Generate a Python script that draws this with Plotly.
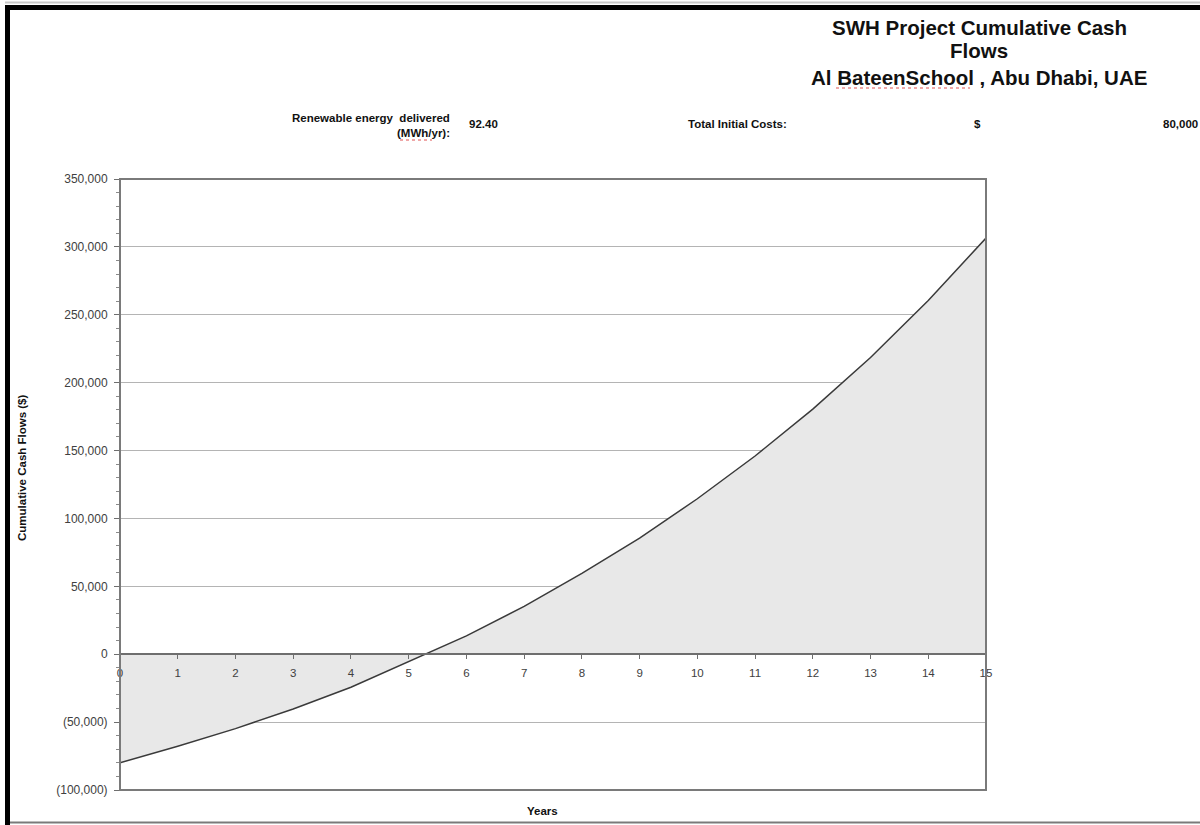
import plotly.graph_objects as go

years = list(range(16))
cumulative_cash = [-80000, -67800, -54800, -40300, -24300, -5500, 13500, 35200,
                   59500, 85500, 114500, 146000, 180500, 218500, 260500, 306500]
y_tickvals = [-100000, -50000, 0, 50000, 100000, 150000, 200000, 250000, 300000, 350000]
y_ticktext = ["(100,000)", "(50,000)", "0", "50,000", "100,000", "150,000",
              "200,000", "250,000", "300,000", "350,000"]
title_lines = ["SWH Project Cumulative Cash", "Flows", "Al BateenSchool , Abu Dhabi, UAE"]

W, H = 1200, 825
def px(x):
    return x / W
def py(y):
    return 1 - y / H

FONT = "Liberation Sans, Arial, sans-serif"
NARROW = "Liberation Sans Narrow, Arial Narrow, Liberation Sans, Arial, sans-serif"

fig = go.Figure()
fig.add_trace(go.Scatter(
    x=years, y=cumulative_cash, mode="lines", fill="tozeroy",
    fillcolor="#e8e8e8", line=dict(color="#3a3a3a", width=1.5),
    hoverinfo="x+y", showlegend=False))

y0_pos = (0 - (-100000)) / 450000
ydom = [1 - 790 / H, 1 - 179 / H]
xaxis_pos = ydom[0] + y0_pos * (ydom[1] - ydom[0])

fig.update_layout(
    width=W, height=H, autosize=False,
    margin=dict(l=0, r=0, t=0, b=0, pad=0),
    paper_bgcolor="white", plot_bgcolor="white",
    xaxis=dict(domain=[120 / W, 986 / W], range=[0, 15], anchor="free",
               position=xaxis_pos, tickvals=years, showgrid=False, zeroline=False,
               showline=True, linecolor="#6e6e6e", linewidth=1.5, automargin=False,
               ticks="outside", ticklen=4, tickcolor="#6e6e6e", ticklabelstandoff=4,
               tickfont=dict(family=FONT, size=11.5, color="#404040")),
    yaxis=dict(domain=ydom, range=[-100000, 350000], tickvals=y_tickvals,
               ticktext=y_ticktext, showgrid=True, gridcolor="#b4b4b4", gridwidth=1,
               zeroline=False, showline=False, ticks="outside", ticklen=5,
               tickcolor="#6e6e6e", automargin=False, ticklabelstandoff=4,
               minor=dict(ticks="outside", dtick=10000, ticklen=3, tickcolor="#8a8a8a",
                          showgrid=False),
               tickfont=dict(family=FONT, size=12, color="#404040")),
    shapes=[
        dict(type="rect", xref="x domain", yref="y domain", x0=0, x1=1, y0=0, y1=1,
             line=dict(color="#7a7a7a", width=2), layer="above"),
        # outer frame
        dict(type="line", xref="paper", yref="paper", x0=px(5), x1=1, y0=py(2.5), y1=py(2.5),
             line=dict(color="#c8c8c8", width=2)),
        dict(type="line", xref="paper", yref="paper", x0=px(5), x1=1, y0=py(7.5), y1=py(7.5),
             line=dict(color="black", width=5)),
        dict(type="line", xref="paper", yref="paper", x0=px(7.5), x1=px(7.5), y0=0, y1=py(5),
             line=dict(color="black", width=5)),
        dict(type="line", xref="paper", yref="paper", x0=px(10), x1=1, y0=py(822.5), y1=py(822.5),
             line=dict(color="#7a7a7a", width=2)),
        # spell-check squiggles
        dict(type="line", xref="paper", yref="paper", x0=px(836), x1=px(970), y0=py(88), y1=py(88),
             line=dict(color="#e05050", width=1, dash="dot")),
        dict(type="line", xref="paper", yref="paper", x0=px(400), x1=px(432), y0=py(140), y1=py(140),
             line=dict(color="#e05050", width=1, dash="dot")),
    ],
)

ann = []
for i, t in enumerate(title_lines):
    ann.append(dict(text="<b>" + t + "</b>", x=px(979), y=py([28, 51, 77][i]),
                    xref="paper", yref="paper", showarrow=False, xanchor="center",
                    yanchor="middle", font=dict(family=FONT, size=20.5, color="#111111")))
ann += [
    dict(text="<b>Renewable energy  delivered</b>", x=px(452), y=py(118), xanchor="right"),
    dict(text="<b>(MWh/yr):</b>", x=px(452), y=py(133), xanchor="right"),
    dict(text="<b>92.40</b>", x=px(467), y=py(124), xanchor="left"),
    dict(text="<b>Total Initial Costs:</b>", x=px(686), y=py(124), xanchor="left"),
    dict(text="<b>$</b>", x=px(978), y=py(124), xanchor="center"),
    dict(text="<b>80,000</b>", x=px(1200), y=py(124), xanchor="right"),
    dict(text="<b>Years</b>", x=px(542), y=py(811), xanchor="center"),
    dict(text="<b>Cumulative Cash Flows ($)</b>", x=px(22), y=py(468), xanchor="center",
         textangle=-90),
]
for a in ann[3:]:
    a.update(xref="paper", yref="paper", showarrow=False, yanchor="middle",
             font=dict(family=NARROW, size=11.5, color="#111111"))
fig.update_layout(annotations=ann)

fig.write_html("out.html", config={"displayModeBar": False},
               post_script="document.body.style.margin='0';")
